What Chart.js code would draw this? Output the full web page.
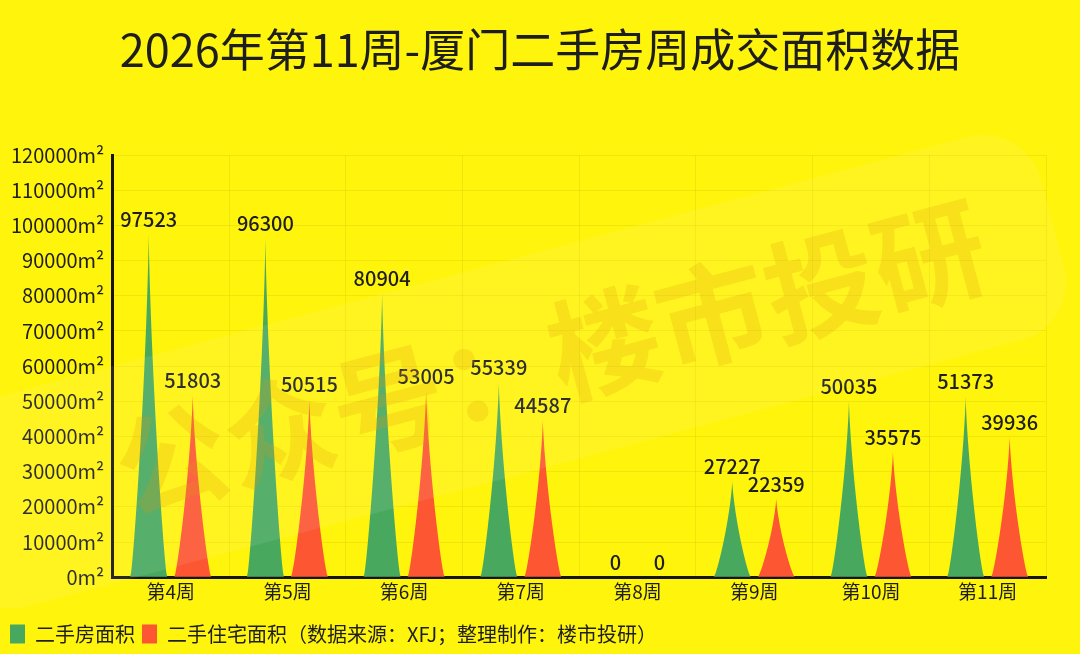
<!DOCTYPE html>
<html>
<head>
<meta charset="utf-8">
<script src="https://cdn.jsdelivr.net/npm/chart.js@4/dist/chart.umd.min.js"></script>
<style>
  html, body { margin: 0; padding: 0; background: #fff40c; }
  #wrap { width: 1080px; height: 654px; }
</style>
</head>
<body>
<div id="wrap"><canvas id="ctx"></canvas></div>
<script>
const weeks = ["第4周", "第5周", "第6周", "第7周", "第8周", "第9周", "第10周", "第11周"];
const houseArea = [97523, 96300, 80904, 55339, 0, 27227, 50035, 51373];
const homeArea = [51803, 50515, 53005, 44587, 0, 22359, 35575, 39936];
const yMax = 120000;
const yStep = 10000;
const titleText = "2026年第11周-厦门二手房周成交面积数据";

const font = '"Noto Sans CJK SC", "Noto Sans", sans-serif';
const green = "#48a95e";
const red = "#fc5632";

// half width of the spike at height fraction f
function spikeWidth(f) {
    return 0.7 * Math.pow(1 - f, 1.5) + 0.3 * (1 - Math.sqrt(f));
}

function drawSpike(c, x, top, base, w) {
    const h = base - top;
    if (h <= 0) return;
    const n = 80;
    c.beginPath();
    c.moveTo(x - w, base);
    for (let i = 1; i <= n; i++) {
        const f = i / n;
        c.lineTo(x - w * spikeWidth(f), base - f * h);
    }
    for (let i = n; i >= 0; i--) {
        const f = i / n;
        c.lineTo(x + w * spikeWidth(f), base - f * h);
    }
    c.closePath();
    c.fill();
}

const spikes = {
    id: "spikes",
    beforeDatasetDraw(chart, args) {
        const c = chart.ctx;
        const ds = chart.data.datasets[args.index];
        c.save();
        c.fillStyle = ds.backgroundColor;
        args.meta.data.forEach((bar) => {
            drawSpike(c, bar.x, bar.y, bar.base, bar.width / 2);
        });
        c.fillStyle = "#1e1e1e";
        c.font = "500 20px " + font;
        c.textAlign = "center";
        c.textBaseline = "alphabetic";
        args.meta.data.forEach((bar, i) => {
            c.fillText(String(ds.data[i]), bar.x, bar.y - 7);
        });
        c.restore();
        return false;
    }
};

// title centred on the whole canvas, not on the padded box
const pageTitle = {
    id: "pageTitle",
    afterDraw(chart) {
        const c = chart.ctx;
        c.save();
        c.fillStyle = "#1e1e1e";
        c.font = "45px " + font;
        c.textAlign = "center";
        c.textBaseline = "middle";
        c.fillText(titleText, chart.width / 2, 50);
        c.restore();
    }
};

const watermark = {
    id: "watermark",
    afterDraw(chart) {
        const c = chart.ctx;
        c.save();
        c.translate(560, 355);
        c.rotate(-15 * Math.PI / 180);
        c.fillStyle = "rgba(255,255,255,0.08)";
        c.beginPath();
        c.roundRect(-640, -105, 1150, 210, 60);
        c.fill();
        c.fillStyle = "rgba(225,150,20,0.22)";
        c.font = "bold 112px " + font;
        c.textAlign = "center";
        c.textBaseline = "middle";
        c.fillText("公众号：楼市投研", -10, 0);
        c.restore();
    }
};

const chart = new Chart(document.getElementById("ctx"), {
    type: "bar",
    data: {
        labels: weeks,
        datasets: [{
            label: "二手房面积",
            data: houseArea,
            backgroundColor: green,
            borderWidth: 0,
            barPercentage: 0.84,
            categoryPercentage: 0.754
        }, {
            label: "二手住宅面积（数据来源：XFJ；整理制作：楼市投研）",
            data: homeArea,
            backgroundColor: red,
            borderWidth: 0,
            barPercentage: 0.84,
            categoryPercentage: 0.754
        }]
    },
    options: {
        responsive: true,
        maintainAspectRatio: false,
        animation: false,
        layout: { padding: { left: 3, right: 34, top: 155, bottom: 0 } },
        plugins: {
            title: { display: false },
            legend: {
                position: "bottom",
                align: "start",
                labels: {
                    color: "#1e1e1e",
                    font: { family: font, size: 20 },
                    boxWidth: 15,
                    boxHeight: 19,
                    padding: 7
                }
            },
            tooltip: { enabled: false }
        },
        scales: {
            x: {
                grid: { color: "rgba(120,110,0,0.10)", drawTicks: false },
                border: { color: "#151515", width: 3 },
                ticks: { color: "#1e1e1e", font: { family: font, size: 19 }, padding: 3 },
                afterFit: (scale) => { scale.height += 11; }
            },
            y: {
                min: 0,
                max: yMax,
                grid: { color: "rgba(120,110,0,0.10)", drawTicks: false },
                border: { color: "#151515", width: 3 },
                ticks: {
                    stepSize: yStep,
                    color: "#1e1e1e",
                    font: { family: font, size: 20 },
                    padding: 8,
                    callback: (v) => v + "m²"
                }
            }
        }
    },
    plugins: [spikes, pageTitle, watermark]
});
</script>
</body>
</html>
